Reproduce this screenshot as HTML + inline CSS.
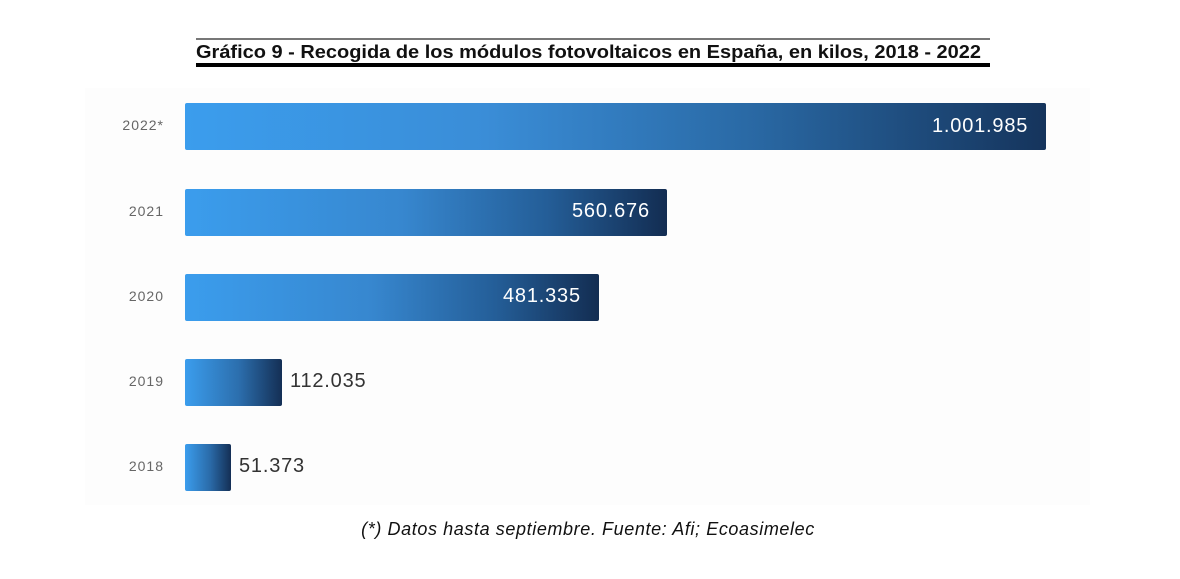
<!DOCTYPE html>
<html><head><style>
body{margin:0;width:1180px;height:579px;background:#fff;position:relative;font-family:"Liberation Sans",sans-serif;overflow:hidden}
.t{position:absolute;left:196px;top:38px;width:794px;height:23px;border-top:2px solid #777;border-bottom:4px solid #000;box-sizing:content-box}
.t span{position:absolute;left:0;top:2px;font-weight:bold;font-size:18px;white-space:nowrap;color:#111;transform:scaleX(1.11);transform-origin:0 0}
.bg{position:absolute;left:85px;top:88px;width:1005px;height:417px;background:#fdfdfd}
.b{position:absolute;left:185px;height:47px;border-radius:2px}
.y{position:absolute;right:1016px;font-size:14px;letter-spacing:1px;color:#666;width:80px;text-align:right}
.v{position:absolute;font-size:20px;letter-spacing:0.8px;color:#333}
.w{color:#fff}
.f{position:absolute;left:0;width:1176px;text-align:center;top:519px;font-style:italic;font-size:18px;letter-spacing:0.6px;color:#111}
</style></head><body>
<div class="bg"></div>
<div class="t"><span>Gráfico 9 - Recogida de los módulos fotovoltaicos en España, en kilos, 2018 - 2022</span></div>
<div class="b" style="top:103px;width:861px;background:linear-gradient(90deg,#3b9ded,#3a8dd7 35%,#2a6aa6 65%,#15345c)"></div>
<div class="b" style="top:189px;width:482px;background:linear-gradient(90deg,#3b9ded,#3787cf 45%,#245e98 75%,#132d52)"></div>
<div class="b" style="top:274px;width:414px;background:linear-gradient(90deg,#3b9ded,#3787cf 45%,#245e98 75%,#132d52)"></div>
<div class="b" style="top:359px;width:97px;background:linear-gradient(90deg,#3b9ded,#2c6fae 55%,#142f55)"></div>
<div class="b" style="top:444px;width:46px;background:linear-gradient(90deg,#3b9ded,#2a6aa8 55%,#142f55)"></div>
<div class="y" style="top:117px">2022*</div>
<div class="y" style="top:203px">2021</div>
<div class="y" style="top:288px">2020</div>
<div class="y" style="top:373px">2019</div>
<div class="y" style="top:458px">2018</div>
<div class="v w" style="left:932px;top:115px">1.001.985</div>
<div class="v w" style="left:572px;top:200px">560.676</div>
<div class="v w" style="left:503px;top:285px">481.335</div>
<div class="v" style="left:290px;top:370px">112.035</div>
<div class="v" style="left:239px;top:455px">51.373</div>
<div class="f">(*) Datos hasta septiembre. Fuente: Afi; Ecoasimelec</div>
</body></html>
